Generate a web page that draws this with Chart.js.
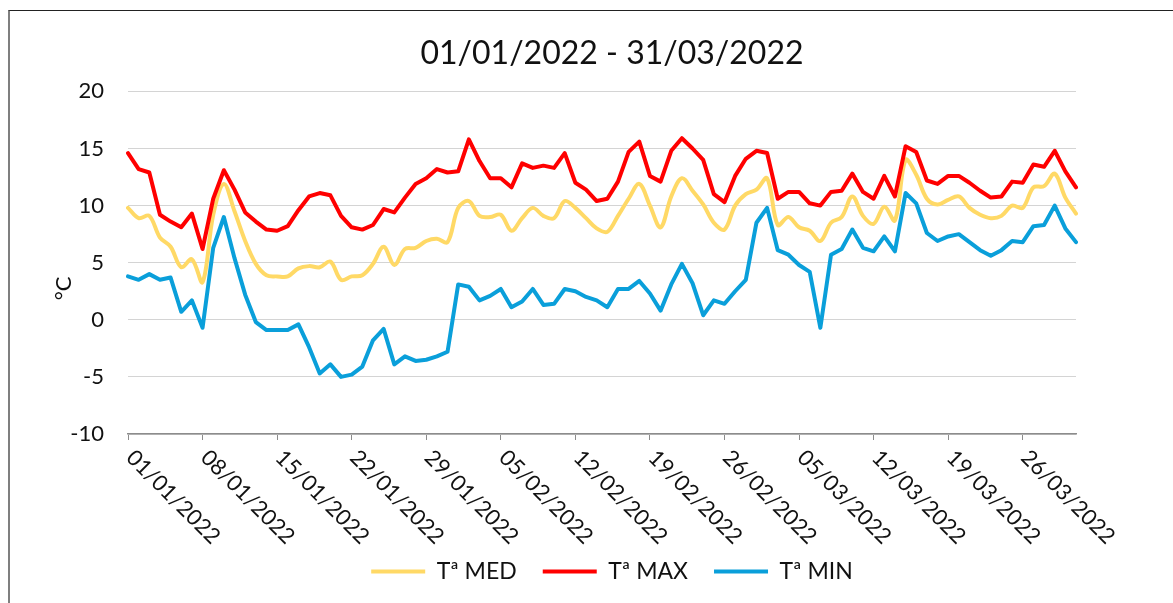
<!DOCTYPE html>
<html>
<head>
<meta charset="utf-8">
<script src="https://cdn.jsdelivr.net/npm/chart.js@4/dist/chart.umd.min.js"></script>
<style>
  html, body { margin: 0; padding: 0; background: #fff; overflow: hidden; }
  #marco {
    position: absolute; left: 8px; top: 10px;
    border-left: 2px solid #7f7f7f; border-top: 1px solid #222;
  }
  canvas { display: block; }
</style>
</head>
<body>
<div id="marco"><canvas id="grafico" width="1204" height="592"></canvas></div>
<script>
// Temperaturas diarias 01/01/2022 - 31/03/2022 (ºC)
const tMed = [
  9.8, 8.9, 9.1, 7.2, 6.4, 4.6, 5.3, 3.3, 9.2, 11.9,
  9.5, 6.9, 4.9, 3.9, 3.8, 3.8, 4.5, 4.7, 4.6, 5.1,
  3.5, 3.8, 3.9, 4.9, 6.4, 4.8, 6.2, 6.3, 6.9, 7.1,
  6.8, 9.8, 10.4, 9.1, 9.0, 9.2, 7.8, 8.9, 9.8, 9.1,
  8.9, 10.4, 9.8, 8.9, 8.0, 7.7, 9.1, 10.6, 11.9, 10.0,
  8.1, 10.8, 12.4, 11.3, 10.1, 8.5, 7.9, 10.0, 11.0, 11.4,
  12.4, 8.3, 9.0, 8.1, 7.8, 6.9, 8.5, 9.0, 10.8, 9.1,
  8.4, 9.9, 8.7, 14.0, 12.7, 10.6, 10.1, 10.5, 10.8, 9.8,
  9.2, 8.9, 9.1, 10.0, 9.8, 11.6, 11.7, 12.8, 10.7, 9.3
];
const tMax = [
  14.6, 13.2, 12.9, 9.2, 8.6, 8.1, 9.3, 6.2, 10.6, 13.1,
  11.4, 9.4, 8.6, 7.9, 7.8, 8.2, 9.6, 10.8, 11.1, 10.9,
  9.1, 8.1, 7.9, 8.3, 9.7, 9.4, 10.7, 11.9, 12.4, 13.2,
  12.9, 13.0, 15.8, 13.9, 12.4, 12.4, 11.6, 13.7, 13.3, 13.5,
  13.3, 14.6, 12.0, 11.4, 10.4, 10.6, 12.1, 14.7, 15.6, 12.6,
  12.1, 14.8, 15.9, 15.0, 14.0, 11.0, 10.3, 12.6, 14.1, 14.8,
  14.6, 10.6, 11.2, 11.2, 10.2, 10.0, 11.2, 11.3, 12.8, 11.2,
  10.6, 12.6, 10.8, 15.2, 14.7, 12.2, 11.9, 12.6, 12.6, 12.0,
  11.3, 10.7, 10.8, 12.1, 12.0, 13.6, 13.4, 14.8, 13.0, 11.6
];
const tMin = [
  3.8, 3.5, 4.0, 3.5, 3.7, 0.7, 1.7, -0.7, 6.3, 9.0,
  5.4, 2.2, -0.2, -0.9, -0.9, -0.9, -0.4, -2.4, -4.7, -3.9,
  -5.0, -4.8, -4.1, -1.8, -0.8, -3.9, -3.2, -3.6, -3.5, -3.2,
  -2.8, 3.1, 2.9, 1.7, 2.1, 2.7, 1.1, 1.6, 2.7, 1.3,
  1.4, 2.7, 2.5, 2.0, 1.7, 1.1, 2.7, 2.7, 3.4, 2.3,
  0.8, 3.1, 4.9, 3.2, 0.4, 1.7, 1.4, 2.5, 3.5, 8.5,
  9.8, 6.1, 5.7, 4.8, 4.2, -0.7, 5.7, 6.2, 7.9, 6.3,
  6.0, 7.3, 6.0, 11.1, 10.2, 7.6, 6.9, 7.3, 7.5, 6.8,
  6.1, 5.6, 6.1, 6.9, 6.8, 8.2, 8.3, 10.0, 8.0, 6.8
];

// Fechas del periodo, una por día
const dias = [];
for (let d = new Date(2022, 0, 1); d <= new Date(2022, 2, 31); d.setDate(d.getDate() + 1)) {
  const dd = String(d.getDate()).padStart(2, '0');
  const mm = String(d.getMonth() + 1).padStart(2, '0');
  dias.push(`${dd}/${mm}/${d.getFullYear()}`);
}

const titulo = '01/01/2022 - 31/03/2022';
const unidad = '°C';
const cadaNDias = 7;
const fuente = 'Lato, "Open Sans", sans-serif';
const colorTexto = '#111';

// Etiquetas de fecha inclinadas hacia abajo y título del eje Y
const etiquetasEje = {
  id: 'etiquetasEje',
  afterDraw(chart) {
    const { ctx, chartArea, scales: { x } } = chart;
    ctx.save();
    ctx.font = `22px ${fuente}`;
    ctx.fillStyle = colorTexto;
    ctx.textAlign = 'left';
    ctx.textBaseline = 'middle';
    x.ticks.forEach((t, i) => {
      ctx.save();
      ctx.translate(x.getPixelForTick(i) + 2, chartArea.bottom + 20);
      ctx.rotate(Math.PI / 4);
      ctx.fillText(x.getLabelForValue(t.value), 0, 0);
      ctx.restore();
    });
    ctx.translate(chartArea.left - 64, chartArea.top + (chartArea.bottom - chartArea.top) * 0.575);
    ctx.rotate(-Math.PI / 2);
    ctx.textAlign = 'center';
    ctx.fillText(unidad, 0, 0);
    ctx.restore();
  }
};

function serie(label, data, color, orden, tension) {
  return {
    label, data,
    borderColor: color,
    backgroundColor: color,
    borderWidth: 4,
    pointRadius: 0,
    pointHoverRadius: 0,
    tension,
    borderJoinStyle: 'round',
    borderCapStyle: 'round',
    fill: false,
    order: orden
  };
}

new Chart(document.getElementById('grafico'), {
  type: 'line',
  data: {
    labels: dias,
    datasets: [
      serie('Tª MED', tMed, '#FFD966', 2, 0.35),
      serie('Tª MAX', tMax, '#FF0000', 1, 0),
      serie('Tª MIN', tMin, '#0A9FDA', 0, 0)
    ]
  },
  options: {
    responsive: false,
    animation: false,
    layout: { padding: { left: 0, right: 0, top: 0, bottom: 10 } },
    plugins: {
      title: {
        display: true,
        text: titulo,
        color: colorTexto,
        font: { family: fuente, size: 32, weight: 'normal' },
        padding: { top: 23, bottom: 19 }
      },
      legend: {
        position: 'bottom',
        labels: {
          usePointStyle: true,
          pointStyle: 'line',
          pointStyleWidth: 54,
          padding: 26,
          color: colorTexto,
          font: { family: fuente, size: 23 },
          sort: (a, b) => a.datasetIndex - b.datasetIndex
        }
      },
      tooltip: { enabled: false }
    },
    scales: {
      x: {
        type: 'category',
        offset: false,
        afterBuildTicks: axis => { axis.ticks = axis.ticks.filter((t, i) => i % cadaNDias === 0); },
        afterFit: axis => { axis.height = 100; },
        ticks: { display: false, autoSkip: false },
        grid: { drawOnChartArea: false, drawTicks: true, tickLength: 6, color: '#8c8c8c' },
        border: { display: true, color: '#8c8c8c', width: 1.5 }
      },
      y: {
        min: -10,
        max: 20,
        afterFit: axis => { axis.width = 118; },
        ticks: { stepSize: 5, padding: 24, color: colorTexto, font: { family: fuente, size: 22 } },
        grid: { color: '#d4d4d4', drawTicks: false },
        border: { display: false }
      },
      // margen derecho del área de trazado, sin marcas
      derecha: {
        type: 'linear',
        position: 'right',
        afterFit: axis => { axis.width = 138; },
        ticks: { display: false },
        grid: { display: false },
        border: { display: false }
      }
    }
  },
  plugins: [etiquetasEje]
});
</script>
</body>
</html>
